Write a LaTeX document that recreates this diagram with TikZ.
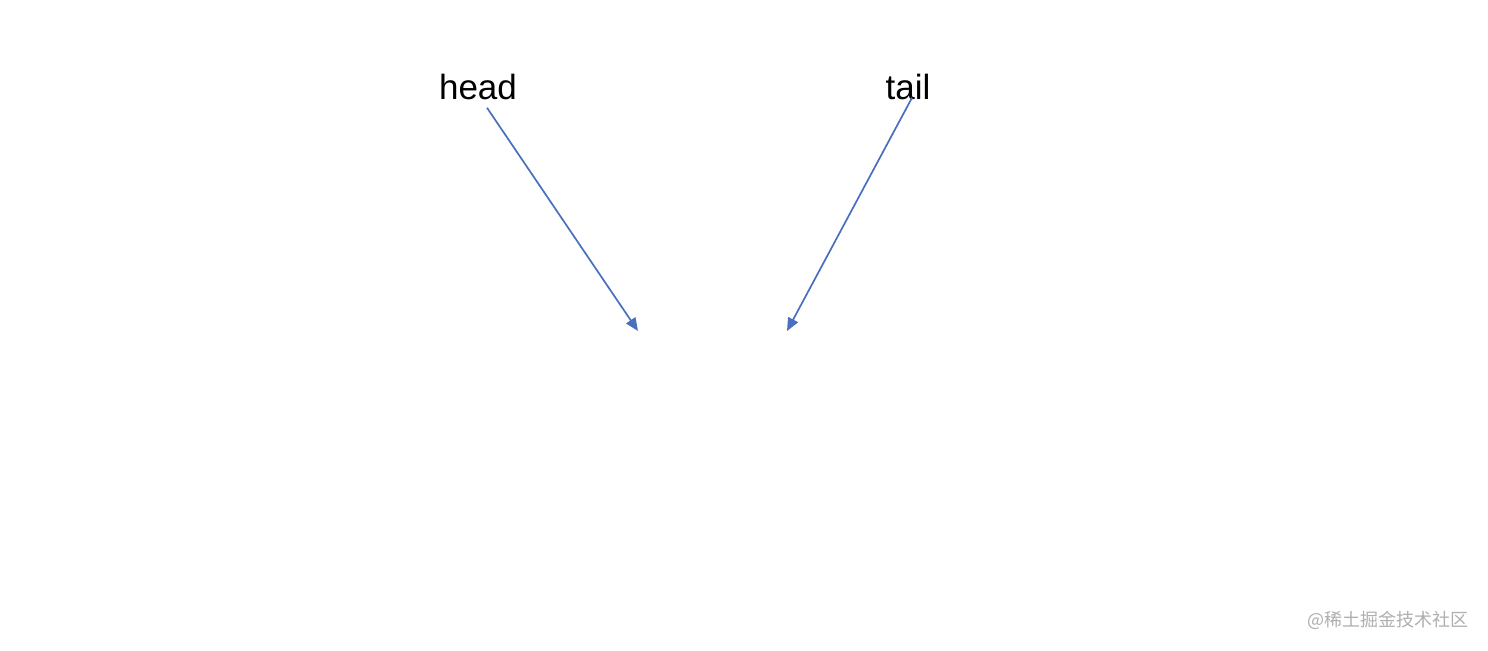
\documentclass[tikz,border=0pt]{standalone}
\usepackage{fontspec}
\setmainfont{Liberation Sans}
\newfontfamily\cjk{Noto Sans CJK SC}
\usetikzlibrary{arrows.meta}
\definecolor{ptrblue}{RGB}{72,112,190}
\definecolor{markgray}{RGB}{175,175,175}
\begin{document}
\begin{tikzpicture}[x=0.5pt,y=-0.5pt,
        ptr/.style={-{Triangle[length=6.5pt,width=5.5pt]},ptrblue,line width=0.85pt},
        lbl/.style={inner sep=0pt,anchor=base,font=\fontsize{17.5}{21}\selectfont}]
            % page frame
            \useasboundingbox[fill=white] (0,0) rectangle (1488,650);
            % the two labels
            \node[lbl] (head) at (478,99) {head};
            \node[lbl] (tail) at (908,99) {tail};
            % where the arrows point
            \coordinate (hend) at (638,331);
            \coordinate (tend) at (787,331);
            \draw[ptr] ([shift={(9,8)}]head.south) -- (hend);
            \draw[ptr] ([shift={(4,-2)}]tail.south) -- (tend);
            % watermark
            \node[markgray,inner sep=0pt,font=\cjk\fontsize{9}{11}\selectfont] (mark) at (1388,620) {@稀土掘金技术社区};
        \end{tikzpicture}
\end{document}
